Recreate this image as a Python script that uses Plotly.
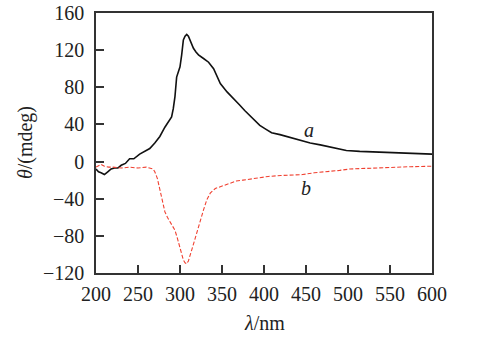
import plotly.graph_objects as go

# CD spectra: wavelength (nm) vs ellipticity (mdeg)
wl_a = [200, 203, 206, 210, 214, 218, 222, 226, 230, 235, 240, 245, 252, 258, 264,
        270, 276, 282, 286, 290, 292, 294, 296, 298, 300, 302, 304, 306, 308, 310,
        312, 314, 316, 319, 322, 328, 334, 340, 348, 356, 364, 371, 377, 383, 389,
        395, 402, 409, 419, 430, 443, 455, 467, 482, 498, 514, 540, 562, 585, 600]
theta_a = [-8, -11, -12, -14, -11, -8, -7, -7, -4, -2, 3, 3, 8, 11, 14,
           20, 27, 37, 42, 48, 57, 70, 91, 96, 102, 115, 131, 135, 137, 135,
           131, 127, 122, 118, 115, 111, 107, 100, 84, 75, 68, 61, 55, 50, 44,
           39, 35, 31, 29, 26, 23, 20, 18, 15, 12, 11, 10, 9.5, 9, 8]

wl_b = [200, 203, 206, 210, 215, 220, 230, 240, 250, 260, 264, 268, 270, 273,
        276, 279, 282, 285, 288, 291, 294, 297, 300, 302, 304, 306, 308, 310,
        312, 314, 317, 320, 324, 328, 332, 336, 342, 348, 354, 360, 367, 375,
        383, 395, 405, 420, 435, 446, 460, 475, 490, 502, 525, 550, 575, 600]
theta_b = [-6, -4, -3, -5, -6, -6, -7, -6, -7, -6, -7, -8, -11, -18,
           -30, -43, -54, -60, -65, -69, -74, -83, -92, -100, -106, -109, -110, -107,
           -102, -95, -86, -76, -64, -52, -41, -34, -29, -27, -25, -23, -21, -20,
           -19, -18, -16, -15, -14.5, -14, -12, -11, -9.5, -8, -7, -6, -5.5, -5]

x_ticks = [200, 250, 300, 350, 400, 450, 500, 550, 600]
y_ticks = [-120, -80, -40, 0, 40, 80, 120, 160]

serif = "Liberation Serif, Times New Roman, serif"
ink = "#222222"

fig = go.Figure()
fig.add_trace(go.Scatter(x=wl_a, y=theta_a, mode="lines",
                         line=dict(color="#111111", width=1.6), name="a"))
fig.add_trace(go.Scatter(x=wl_b, y=theta_b, mode="lines",
                         line=dict(color="#f04030", width=1.1, dash="4px,2px"), name="b"))

# curve labels
fig.add_annotation(x=454, y=34, text="<i>a</i>", showarrow=False,
                   font=dict(family=serif, size=20, color=ink))
fig.add_annotation(x=450, y=-28, text="<i>b</i>", showarrow=False,
                   font=dict(family=serif, size=20, color=ink))

# axis titles
fig.add_annotation(xref="paper", yref="paper", x=0.5, y=-0.192,
                   xanchor="center", yanchor="middle", showarrow=False,
                   text="<i>λ</i>/nm", font=dict(family=serif, size=20, color=ink))
fig.add_annotation(xref="paper", yref="paper", x=-0.211, y=0.5,
                   xanchor="center", yanchor="middle", showarrow=False, textangle=-90,
                   text="<i>θ</i>/(mdeg)", font=dict(family=serif, size=20, color=ink))

axis_common = dict(showgrid=False, zeroline=False, showline=True, mirror=True,
                   linecolor="#333333", linewidth=1.5, ticks="inside", ticklen=8,
                   tickwidth=1.5, tickcolor="#333333", automargin=False,
                   tickfont=dict(family=serif, size=20, color=ink))

fig.update_xaxes(range=[200, 600], tickvals=x_ticks, ticklabelstandoff=2, **axis_common)
fig.update_yaxes(range=[-120, 160], tickvals=y_ticks, ticklabelstandoff=6, **axis_common)

fig.update_layout(width=498, height=338, showlegend=False,
                  margin=dict(l=96, r=66, t=13, b=65),
                  plot_bgcolor="white", paper_bgcolor="white")

fig.write_html("out.html")
